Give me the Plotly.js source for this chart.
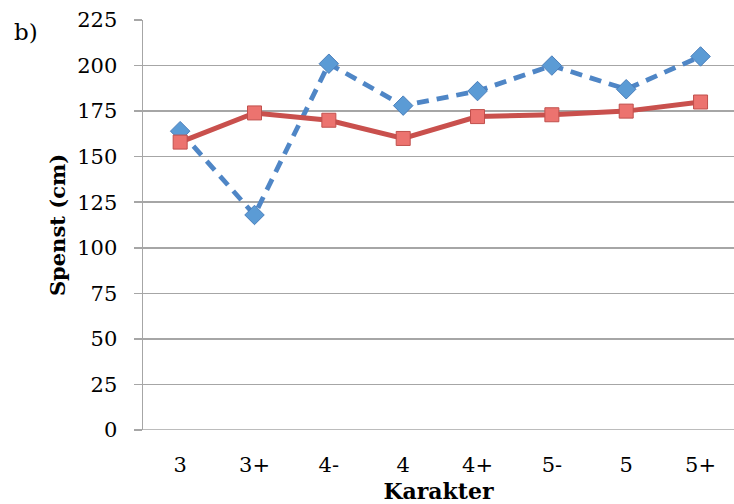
<!DOCTYPE html>
<html>
<head>
<meta charset="utf-8">
<script src="https://cdn.plot.ly/plotly-3.0.1.min.js"></script>
<style>
  html, body { margin: 0; padding: 0; background: #ffffff; }
  #chart { width: 734px; height: 504px; }
</style>
</head>
<body>
<div id="chart"></div>
<script>
// Grades on the x axis
const karakter = ["3", "3+", "4-", "4", "4+", "5-", "5", "5+"];
// Jump height (cm) per grade, two groups
const spenstBla = [164, 118, 201, 178, 186, 200, 187, 205];
const spenstRod = [158, 174, 170, 160, 172, 173, 175, 180];
const yTicks = [0, 25, 50, 75, 100, 125, 150, 175, 200, 225];

const serif = "DejaVu Serif, Liberation Serif, serif";

const traces = [
  {
    x: karakter, y: spenstBla, type: "scatter", mode: "lines+markers",
    line: { color: "#4f86c6", width: 4.8, dash: "12px,8px" },
    marker: { symbol: "diamond", size: 15, color: "#5b9bd5", line: { color: "#4a7ebb", width: 1 } },
    showlegend: false, hoverinfo: "x+y"
  },
  {
    x: karakter, y: spenstRod, type: "scatter", mode: "lines+markers",
    line: { color: "#c9504d", width: 5 },
    marker: { symbol: "square", size: 14, color: "#ec736f", line: { color: "#c0504d", width: 1 } },
    showlegend: false, hoverinfo: "x+y"
  }
];

const layout = {
  width: 734, height: 504,
  margin: { l: 143, r: 0, t: 20, b: 74 },
  paper_bgcolor: "#ffffff", plot_bgcolor: "#ffffff",
  font: { family: serif, size: 21, color: "#000000" },
  xaxis: {
    type: "category",
    range: [-0.5, 7.45],
    showgrid: false, zeroline: false,
    showline: false,
    ticks: "",
    ticklabelstandoff: 20,
    tickfont: { family: serif, size: 21 },
    title: { text: "<b>Karakter</b>", font: { family: serif, size: 22 }, standoff: 10 }
  },
  yaxis: {
    range: [0, 225],
    tickvals: yTicks,
    ticktext: yTicks.map(String),
    showgrid: true, gridcolor: "#a6a6a6", gridwidth: 1.5,
    zeroline: false,
    showline: true, linecolor: "#a6a6a6", linewidth: 1.5,
    ticks: "outside", ticklen: 8, tickcolor: "#a6a6a6", tickwidth: 1.5,
    ticklabelstandoff: 12,
    tickfont: { family: serif, size: 21 },
    title: { text: "<b>Spenst (cm)</b>", font: { family: serif, size: 21 }, standoff: 6 }
  },
  shapes: [
    { type: "line", xref: "paper", yref: "y", x0: 0, x1: 1, y0: 0, y1: 0,
      line: { color: "#a6a6a6", width: 1.5 } }
  ],
  annotations: [
    { text: "b)", xref: "paper", yref: "paper", x: -0.198, y: 0.9707,
      xanchor: "center", yanchor: "middle", showarrow: false,
      font: { family: serif, size: 23 } }
  ]
};

Plotly.newPlot("chart", traces, layout, { staticPlot: true, displayModeBar: false });
</script>
</body>
</html>
